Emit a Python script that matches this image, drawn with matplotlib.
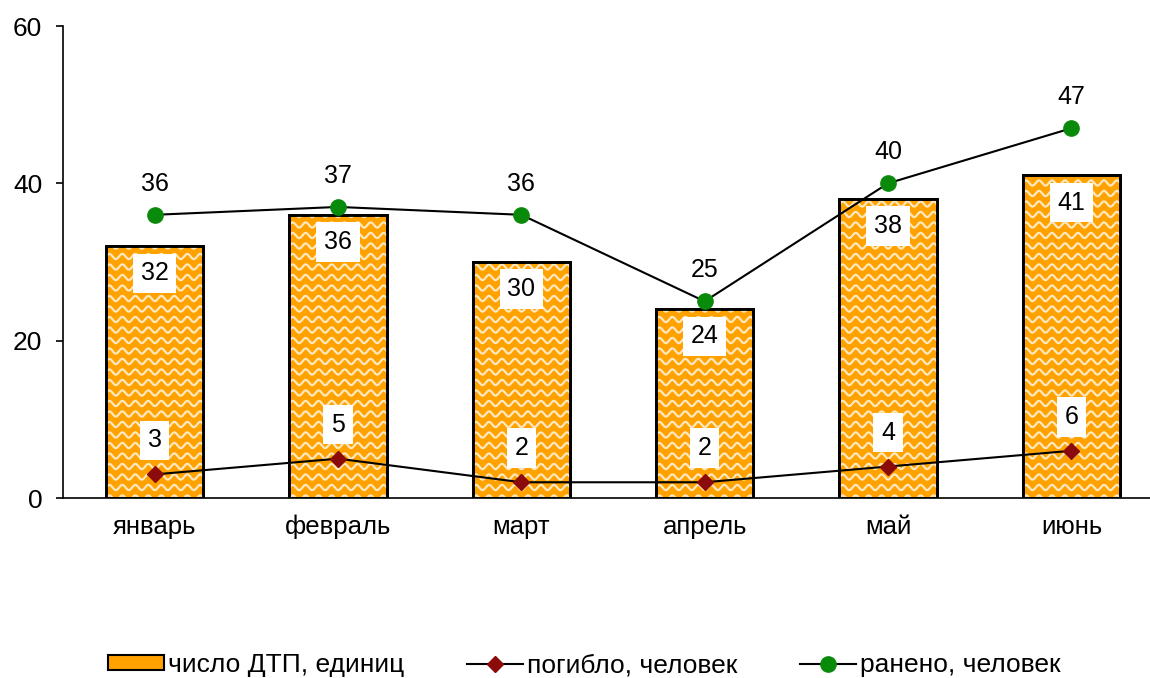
import numpy as np
import matplotlib
matplotlib.use("Agg")
import matplotlib.pyplot as plt
from matplotlib.patches import Patch
from matplotlib.lines import Line2D

plt.rcParams['font.family'] = ['Liberation Sans', 'DejaVu Sans']

months = ['январь', 'февраль', 'март', 'апрель', 'май', 'июнь']
dtp = [32, 36, 30, 24, 38, 41]
killed = [3, 5, 2, 2, 4, 6]
injured = [36, 37, 36, 25, 40, 47]

orange = '#FFA200'
red = '#8B0A0A'
green = '#0A8A0A'
fs = 18

fig = plt.figure(figsize=(11.5, 6.78), dpi=100)
ax = fig.add_axes([63 / 1150, 180 / 678, 1100 / 1150, 472 / 678])

x = np.arange(len(months))
bars = ax.bar(x, dtp, width=0.53, color=orange, edgecolor='black', linewidth=2, zorder=2)
ax.set_xlim(-0.5, 5.5)
ax.set_ylim(0, 60)

# wavy white texture inside the bars
bb = ax.get_window_extent()
pxx = bb.width / 6.0
pxy = bb.height / 60.0
period, amp, gap = 13.0, 2.6, 10.5
for b in bars:
    x0, w, h = b.get_x(), b.get_width(), b.get_height()
    xs = np.linspace(x0, x0 + w, 300)
    phase = (xs - x0) * pxx / period * 2 * np.pi
    y0 = 0.0
    while y0 < h + 1:
        ys = y0 + amp * np.sin(phase) / pxy
        ln, = ax.plot(xs, ys, color='white', lw=1.6, alpha=0.75, zorder=2.5)
        ln.set_clip_path(b)
        y0 += gap / pxy
    edge = plt.Rectangle((x0, 0), w, h, fill=False, edgecolor='black', lw=2, zorder=3)
    ax.add_patch(edge)

ax.plot(x, killed, color='black', lw=1.5, marker='D', markersize=8,
        markerfacecolor=red, markeredgecolor=red, zorder=4)
ax.plot(x, injured, color='black', lw=1.5, marker='o', markersize=11,
        markerfacecolor=green, markeredgecolor=green, zorder=4)

box = dict(facecolor='white', edgecolor='none', pad=5.5)
for i in range(len(months)):
    ax.annotate(str(dtp[i]), (x[i], dtp[i]), xytext=(0, -19.5), textcoords='offset points',
                ha='center', va='center', fontsize=fs, bbox=box, zorder=3.5)
    ax.annotate(str(killed[i]), (x[i], killed[i]), xytext=(0, 24.5), textcoords='offset points',
                ha='center', va='center', fontsize=fs, bbox=box, zorder=3.5)
    ax.annotate(str(injured[i]), (x[i], injured[i]), xytext=(0, 22.5), textcoords='offset points',
                ha='center', va='center', fontsize=fs, bbox=box, zorder=3.5)

ax.set_xticks(x)
ax.set_xticklabels(months, fontsize=18.5)
ax.tick_params(axis='x', length=0, pad=12)
ax.set_yticks([0, 20, 40, 60])
ax.tick_params(axis='y', labelsize=19, direction='out', length=5, width=1.2, pad=10)
ax.spines['top'].set_visible(False)
ax.spines['right'].set_visible(False)
ax.spines['left'].set_linewidth(1.2)
ax.spines['bottom'].set_linewidth(1.2)

handles = [
    Patch(facecolor=orange, edgecolor='black', lw=1.5, label='число ДТП, единиц'),
    Line2D([], [], color='black', lw=1.5, marker='D', markersize=8, markerfacecolor=red,
           markeredgecolor=red, label='погибло, человек'),
    Line2D([], [], color='black', lw=1.5, marker='o', markersize=11, markerfacecolor=green,
           markeredgecolor=green, label='ранено, человек'),
]
fig.legend(handles=handles, loc='center', bbox_to_anchor=(0.508, 1 - 665 / 678), ncol=3,
           frameon=False, fontsize=19, handlelength=2.1, handletextpad=0.15,
           columnspacing=2.4, handleheight=0.5)

fig.savefig('out.png', dpi=100)
